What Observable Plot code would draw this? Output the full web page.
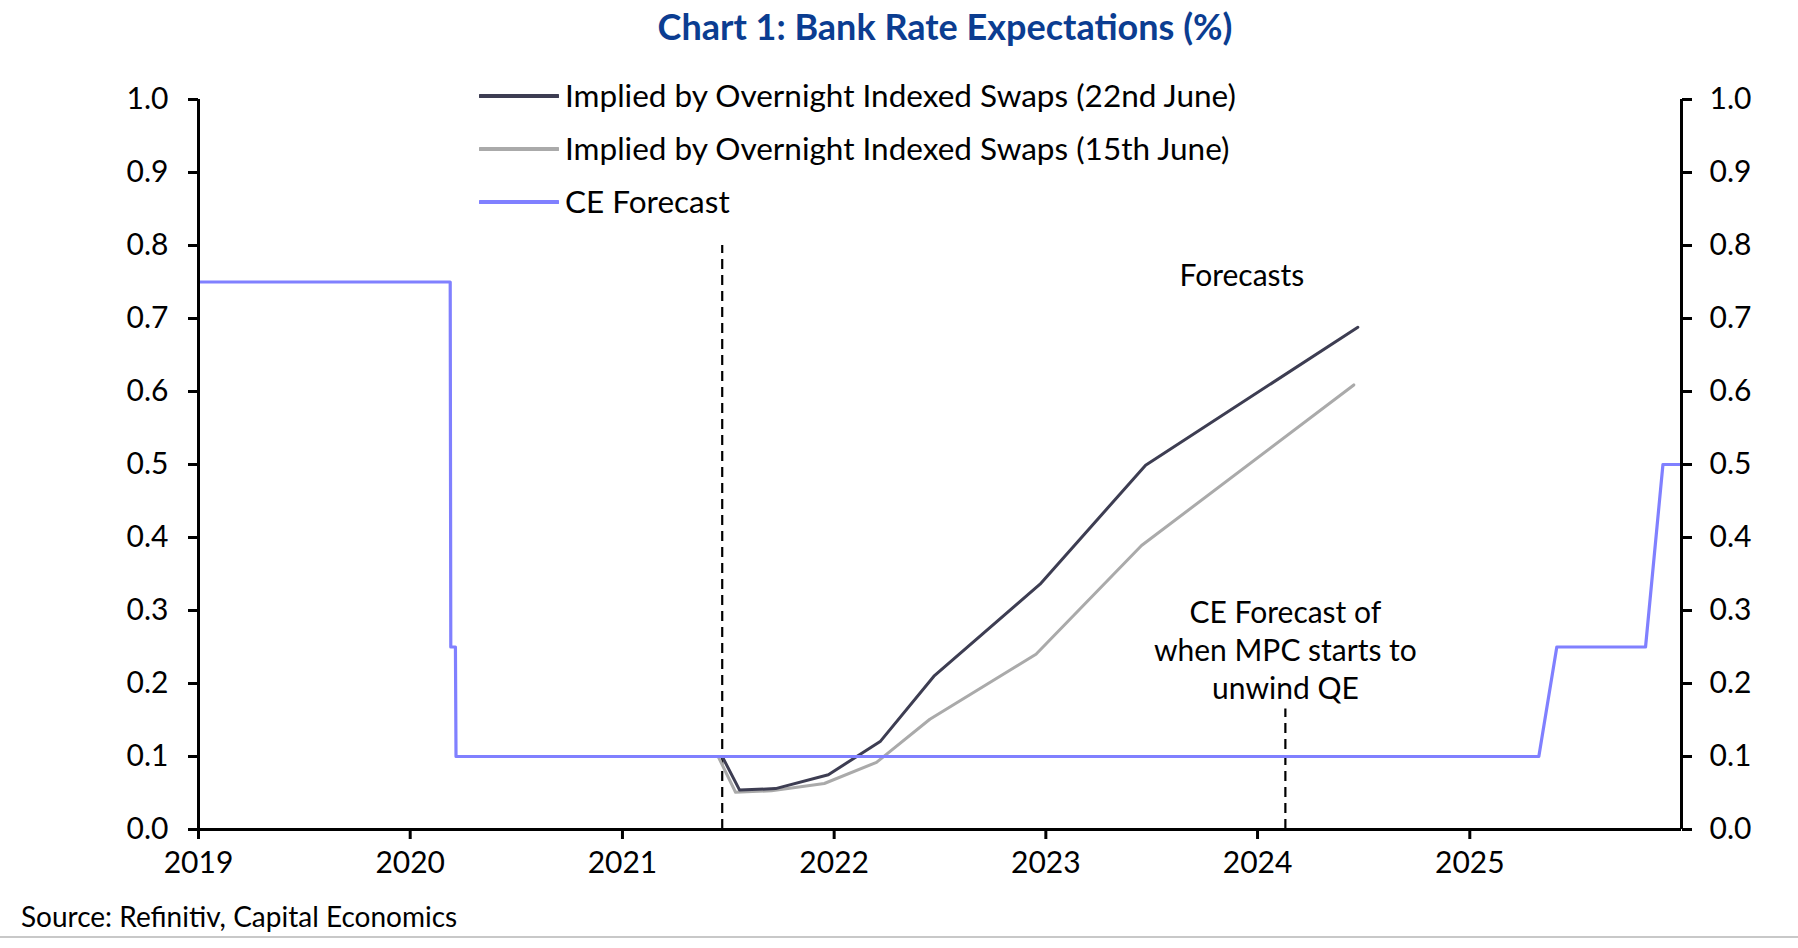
<!DOCTYPE html>
<html><head><meta charset="utf-8">
<script src="https://cdn.jsdelivr.net/npm/d3@7"></script>
<script src="https://cdn.jsdelivr.net/npm/@observablehq/plot@0.6"></script>
<style>
  body{margin:0;background:#fff;font-family:Lato,"Noto Sans",sans-serif;}
  #wrap{position:relative;width:1798px;height:948px;overflow:hidden;background:#fff;}
  #title{position:absolute;left:45px;top:8px;width:1800px;text-align:center;font-weight:bold;font-size:36px;line-height:1;color:#0b3d91;}
  #chart{position:absolute;left:0;top:50px;}
  #legend{position:absolute;left:479px;top:0;}
  .row{position:absolute;left:0;white-space:nowrap;font-size:31.5px;line-height:1;height:32px;display:flex;align-items:center;}
  .row svg{margin-right:6px;}
  #source{position:absolute;left:21px;top:902px;font-size:28px;line-height:1;color:#000;}
  #rule{position:absolute;left:0;top:936px;width:1798px;height:2px;background:#c8c8c8;}
</style></head>
<body><div id="wrap">
  <div id="title">Chart 1: Bank Rate Expectations (%)</div>
  <div id="chart"></div>
  <div id="legend"></div>
  <div id="source">Source: Refinitiv, Capital Economics</div>
  <div id="rule"></div>
</div>
<script>
// ---- data ----
const seriesNames = ["Implied by Overnight Indexed Swaps (22nd June)", "Implied by Overnight Indexed Swaps (15th June)", "CE Forecast"];
const seriesColors = ["#3d3d52", "#aaaaaa", "#8080ff"];

const ceDates  = ["2019-01-01","2020-03-10","2020-03-11","2020-03-19","2020-03-20","2025-04-30","2025-05-31","2025-10-31","2025-11-30","2026-01-01"];
const ceValues = [0.75, 0.75, 0.25, 0.25, 0.1, 0.1, 0.25, 0.25, 0.5, 0.5];

const ois22Dates  = ["2021-06-22","2021-07-22","2021-09-22","2021-12-22","2022-03-22","2022-06-22","2022-12-22","2023-06-22","2024-06-22"];
const ois22Values = [0.1, 0.054, 0.056, 0.075, 0.121, 0.21, 0.336, 0.499, 0.688];

const ois15Dates  = ["2021-06-15","2021-07-15","2021-09-15","2021-12-15","2022-03-15","2022-06-15","2022-12-15","2023-06-15","2024-06-15"];
const ois15Values = [0.1, 0.051, 0.053, 0.063, 0.092, 0.151, 0.240, 0.389, 0.609];

const markerDates = ["2021-06-22", "2024-02-18"];
const markerTops  = [0.8, 0.165];

const annotations = [
  {date: "2023-12-05", value: 0.761, text: "Forecasts"},
  {date: "2024-02-18", value: 0.248, text: "CE Forecast of\nwhen MPC starts to\nunwind QE"}
];

const xDomain = ["2019-01-01", "2026-01-01"];
const xTicks = ["2019-01-01","2020-01-01","2021-01-01","2022-01-01","2023-01-01","2024-01-01","2025-01-01"];
const yTicks = [0, 0.1, 0.2, 0.3, 0.4, 0.5, 0.6, 0.7, 0.8, 0.9, 1.0];

// ---- build ----
const P = d3.utcParse("%Y-%m-%d");
const mk = (ds, vs) => ds.map((d, i) => ({date: P(d), value: vs[i]}));
const ce = mk(ceDates, ceValues);
const o22 = mk(ois22Dates, ois22Values);
const o15 = mk(ois15Dates, ois15Values);
const markers = markerDates.map((d, i) => ({date: P(d), top: markerTops[i]}));
const ann = annotations.map(a => ({...a, date: P(a.date)}));
const xd = xDomain.map(P);

const chart = Plot.plot({
  width: 1798,
  height: 850,
  marginLeft: 198,
  marginRight: 117,
  marginTop: 49,
  marginBottom: 71,
  style: {fontFamily: "Lato, 'Noto Sans', sans-serif", fontSize: "30px", color: "#000", background: "#fff"},
  x: {type: "utc", domain: xd},
  y: {domain: [0, 1]},
  marks: [
    Plot.ruleX(markers, {x: "date", y1: 0, y2: "top", stroke: "#000", strokeWidth: 2.2, strokeDasharray: "10,6"}),
    Plot.line(o15, {x: "date", y: "value", stroke: seriesColors[1], strokeWidth: 3}),
    Plot.line(o22, {x: "date", y: "value", stroke: seriesColors[0], strokeWidth: 3}),
    Plot.line(ce, {x: "date", y: "value", stroke: seriesColors[2], strokeWidth: 3.2}),
    Plot.text(ann, {x: "date", y: "value", text: "text", fontSize: 30, fill: "#000", lineHeight: 1.27, textAnchor: "middle"}),
    Plot.ruleY([0], {stroke: "#000", strokeWidth: 3}),
    Plot.ruleX(xd, {y1: 0, y2: 1, stroke: "#000", strokeWidth: 3}),
    Plot.axisY({anchor: "left", ticks: yTicks, tickFormat: d3.format(".1f"), tickSize: 10, tickPadding: 20, strokeWidth: 3, label: null, fontSize: 30}),
    Plot.axisY({anchor: "right", ticks: yTicks, tickFormat: d3.format(".1f"), tickSize: 10, tickPadding: 18, strokeWidth: 3, label: null, fontSize: 30}),
    Plot.axisX({ticks: xTicks.map(P), tickFormat: d3.utcFormat("%Y"), tickSize: 10, tickPadding: 12, strokeWidth: 3, label: null, fontSize: 30})
  ]
});
document.getElementById("chart").appendChild(chart);

// legend
const legendRows = [96, 149, 202];
const leg = document.getElementById("legend");
seriesNames.forEach((name, i) => {
  const row = document.createElement("div");
  row.className = "row";
  row.style.top = (legendRows[i] - 16) + "px";
  row.innerHTML = `<svg width="80" height="6"><line x1="1" y1="3" x2="79" y2="3" stroke="${seriesColors[i]}" stroke-width="4" stroke-linecap="round"/></svg><span>${name}</span>`;
  leg.appendChild(row);
});
</script>
</body></html>
